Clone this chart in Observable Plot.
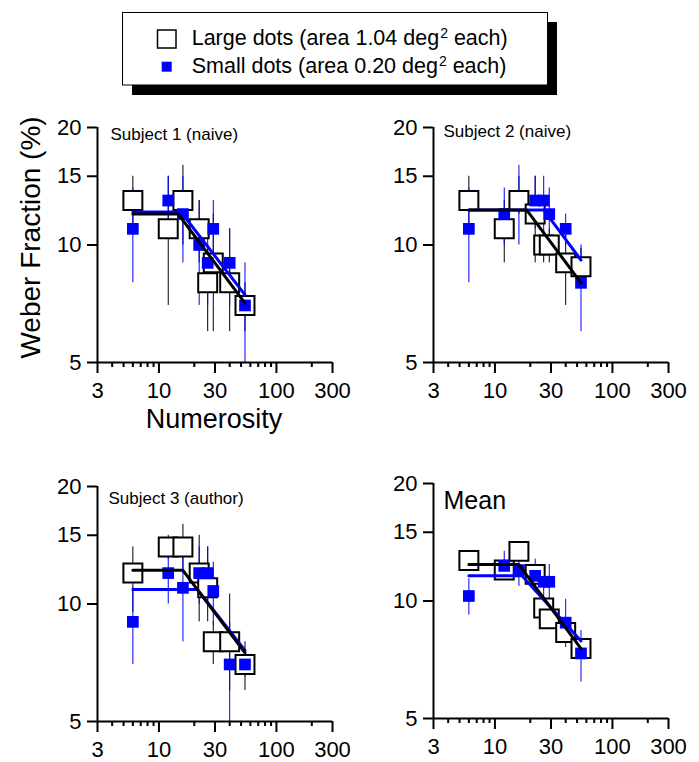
<!DOCTYPE html>
<html><head><meta charset="utf-8">
<script src="https://cdn.jsdelivr.net/npm/d3@7"></script>
<script src="https://cdn.jsdelivr.net/npm/@observablehq/plot@0.6"></script>
<style>
html,body{margin:0;padding:0;background:#fff;}
#page{position:relative;width:699px;height:762px;overflow:hidden;font-family:'Liberation Sans',Arial,sans-serif;}
.pane{position:absolute;}
#overlay{position:absolute;left:0;top:0;pointer-events:none;}
</style></head><body>
<div id="page">
  <div class="pane" id="p1" style="left:0px;top:110px"></div>
  <div class="pane" id="p2" style="left:350px;top:110px"></div>
  <div class="pane" id="p3" style="left:0px;top:468px"></div>
  <div class="pane" id="p4" style="left:350px;top:465px"></div>
  <svg id="overlay" width="699" height="762" font-family="'Liberation Sans', Arial, sans-serif"></svg>
</div>
<script>
// ---- data ----
const numerosity = [6, 12, 16, 22, 26, 29, 40, 54];
const xMajorTicks = [3, 10, 30, 100, 300];
const xMinorTicks = [4, 5, 6, 7, 8, 9, 20, 40, 50, 60, 70, 80, 90, 200];
const yTicks = [5, 10, 15, 20];
const panelTitles = ["Subject 1 (naive)", "Subject 2 (naive)", "Subject 3 (author)", "Mean"];
const legendLarge = ["Large dots (area 1.04 deg", "2", " each)"];
const legendSmall = ["Small dots (area 0.20 deg", "2", " each)"];
const yTitle = "Weber Fraction (%)";
const xTitle = "Numerosity";

// Subject 1
const s1Large   = [13, 11, 13, 11, 8, 9, 8, 7];
const s1LargeLo = [11, 7, 10, 9, 6, 6, 6, 6];
const s1LargeHi = [15, 15, 16, 13, 10, 12, 11, 8];
const s1Small   = [11, 13, 12, 10, 9, 11, 9, 7];
const s1SmallLo = [8, 11, 9, 7, 7, 9, 7, 5];
const s1SmallHi = [14, 15, 15, 13, 11, 13, 11, 9];
const s1FitLargeX = [6, 14.6, 54], s1FitLargeY = [12, 12, 7.1];
const s1FitSmallX = [6, 15.4, 54], s1FitSmallY = [12.15, 12.15, 7.45];

// Subject 2
const s2Large   = [13, 11, 13, 12, 10, 10, 9, 8.8];
const s2LargeLo = [11, 9, 12, 9, 9, 9, 7, 7.8];
const s2LargeHi = [15, 13, 15, 15, 11, 11, 11, 9.8];
const s2Small   = [11, 12, null, 13, 13, 12, 11, 8];
const s2SmallLo = [8, 10, 10, 11, 11, 10, 10, 6];
const s2SmallHi = [14, 14, 16, 15, 15, 14, 12, 10];
const s2FitLargeX = [6, 18.6, 54], s2FitLargeY = [12.3, 12.3, 8.0];
const s2FitSmallX = [6, 26, 54], s2FitSmallY = [12.3, 12.3, 9.15];

// Subject 3
const s3Large   = [12, 14, 14, 12, 11, 8, 8, 7];
const s3LargeLo = [9.5, 13, 12, 9, 9, 7, 6, 6];
const s3LargeHi = [14, 15, 16, 15, 14, 9, 10.6, 8];
const s3Small   = [9, 12, 11, 12, 12, 10.8, 7, 7];
const s3SmallLo = [7, 10, 8, 10, 10, 8.8, 5, 6.5];
const s3SmallHi = [11, 14, 14, 14, 14, 12.8, 9, 7.5];
const s3FitLargeX = [6, 16, 54], s3FitLargeY = [12.2, 12.2, 7.5];
const s3FitSmallX = [6, 21.2, 54], s3FitSmallY = [10.9, 10.9, 7.6];

// Mean
const s4Large   = [12.7, 12, 13.4, 11.7, 9.6, 9, 8.3, 7.56];
const s4LargeLo = [12.2, 11.4, 12.7, 11.1, 9.1, 8.5, 7.9, 7.2];
const s4LargeHi = [13.2, 12.6, 14.1, 12.3, 10.1, 9.5, 8.7, 7.9];
const s4Small   = [10.3, 12.3, 12, 11.6, 11.2, 11.2, 8.8, 7.34];
const s4SmallLo = [9.2, 11.3, 10.9, 10.5, 10.1, 10.1, 7.6, 6.2];
const s4SmallHi = [11.4, 13.4, 13.1, 12.8, 12.4, 12.4, 10.1, 8.4];
const s4FitLargeX = [6, 16, 54], s4FitLargeY = [12.4, 12.4, 7.55];
const s4FitSmallX = [6, 17, 54], s4FitSmallY = [11.6, 11.6, 7.9];

// ---- drawing ----
const FONT = "'Liberation Sans', Arial, sans-serif";
const BLUE = "#0000ff";
function rowsOf(n, v, lo, hi) { return n.map((x, i) => ({x, y: v[i], lo: lo[i], hi: hi[i]})); }
function fitOf(xs, ys) { return xs.map((x, i) => ({x, y: ys[i]})); }

function makePanel(c) {
  const L = rowsOf(numerosity, c.large, c.largeLo, c.largeHi);
  const S = rowsOf(numerosity, c.small, c.smallLo, c.smallHi);
  const FL = fitOf(c.fitLX, c.fitLY);
  const FS = fitOf(c.fitSX, c.fitSY);
  return Plot.plot({
    width: c.width, height: c.height,
    marginTop: c.mt, marginRight: c.mr, marginBottom: c.mb, marginLeft: c.ml,
    x: {type: "log", domain: [3, 300], axis: null},
    y: {type: "log", domain: [5, 20], axis: null},
    style: {fontFamily: FONT, fontSize: "22px", background: "transparent", overflow: "visible", color: "#000"},
    marks: [
      Plot.ruleX(L, {x: "x", y1: "lo", y2: "hi", stroke: "#000", strokeWidth: 1}),
      Plot.ruleX(S, {x: "x", y1: "lo", y2: "hi", stroke: BLUE, strokeWidth: 1}),
      Plot.dot(L, {x: "x", y: "y", symbol: "square", r: 10.7, fill: "#fff", stroke: "#000", strokeWidth: 2}),
      Plot.dot(S.filter(d => d.y != null), {x: "x", y: "y", symbol: "square", r: 6.6, fill: BLUE, stroke: "none"}),
      Plot.line(FS, {x: "x", y: "y", stroke: BLUE, strokeWidth: 3}),
      Plot.line(FL, {x: "x", y: "y", stroke: "#000", strokeWidth: 3}),
      Plot.ruleY([5], {stroke: "#000", strokeWidth: 2}),
      Plot.ruleX([3], {stroke: "#000", strokeWidth: 2}),
      Plot.axisX(xMinorTicks, {tickSize: 5, tickFormat: () => "", strokeWidth: 2, stroke: "#000", label: null}),
      Plot.axisX(xMajorTicks, {tickSize: 11, tickFormat: () => "", strokeWidth: 2, stroke: "#000", label: null}),
      Plot.text(xMajorTicks, {x: d => d, frameAnchor: "bottom", dy: 20, lineAnchor: "top", textAnchor: "middle", text: d => String(d), fontSize: 22, fill: "#000"}),
      Plot.axisY(yTicks, {tickSize: 10, tickPadding: 6, tickFormat: d => String(d), strokeWidth: 2, stroke: "#000", fill: "#000", fontSize: 22, label: null}),
      Plot.text([c.title], {frameAnchor: "top-left", text: d => d, dx: c.tdx, dy: c.tdy, lineAnchor: "bottom", textAnchor: "start", fontSize: c.tsize, fill: "#000"})
    ]
  });
}

const panels = [
  {id: "p1", large: s1Large, largeLo: s1LargeLo, largeHi: s1LargeHi, small: s1Small, smallLo: s1SmallLo, smallHi: s1SmallHi,
   fitLX: s1FitLargeX, fitLY: s1FitLargeY, fitSX: s1FitSmallX, fitSY: s1FitSmallY, title: panelTitles[0],
   width: 352, height: 297, mt: 17, mr: 20, mb: 45, ml: 97, tdx: 13, tdy: 12, tsize: 17},
  {id: "p2", large: s2Large, largeLo: s2LargeLo, largeHi: s2LargeHi, small: s2Small, smallLo: s2SmallLo, smallHi: s2SmallHi,
   fitLX: s2FitLargeX, fitLY: s2FitLargeY, fitSX: s2FitSmallX, fitSY: s2FitSmallY, title: panelTitles[1],
   width: 349, height: 297, mt: 17, mr: 31, mb: 45, ml: 83, tdx: 10, tdy: 9, tsize: 17},
  {id: "p3", large: s3Large, largeLo: s3LargeLo, largeHi: s3LargeHi, small: s3Small, smallLo: s3SmallLo, smallHi: s3SmallHi,
   fitLX: s3FitLargeX, fitLY: s3FitLargeY, fitSX: s3FitSmallX, fitSY: s3FitSmallY, title: panelTitles[2],
   width: 352, height: 294, mt: 18, mr: 20, mb: 41, ml: 97, tdx: 11, tdy: 17, tsize: 17},
  {id: "p4", large: s4Large, largeLo: s4LargeLo, largeHi: s4LargeHi, small: s4Small, smallLo: s4SmallLo, smallHi: s4SmallHi,
   fitLX: s4FitLargeX, fitLY: s4FitLargeY, fitSX: s4FitSmallX, fitSY: s4FitSmallY, title: panelTitles[3],
   width: 349, height: 297, mt: 18, mr: 31, mb: 44, ml: 83, tdx: 10, tdy: 25, tsize: 25}
];
for (const c of panels) document.getElementById(c.id).appendChild(makePanel(c));

// ---- overlay: legend and axis titles ----
const ov = d3.select("#overlay");
ov.append("rect").attr("x", 132).attr("y", 22).attr("width", 425).attr("height", 73).attr("fill", "#000");
ov.append("rect").attr("x", 122.5).attr("y", 12.5).attr("width", 425).attr("height", 72.5).attr("fill", "#fff").attr("stroke", "#000").attr("stroke-width", 1);
ov.append("rect").attr("x", 157.5).attr("y", 30).attr("width", 18.5).attr("height", 18).attr("fill", "#fff").attr("stroke", "#000").attr("stroke-width", 1.5);
ov.append("rect").attr("x", 161.7).attr("y", 61.7).attr("width", 10).attr("height", 10).attr("fill", BLUE);
function legendText(parts, y) {
  const t = ov.append("text").attr("x", 191.7).attr("y", y).attr("font-size", 21.5).attr("fill", "#000");
  t.append("tspan").text(parts[0]);
  t.append("tspan").attr("font-size", 14).attr("dx", 1).attr("dy", -7).text(parts[1]);
  t.append("tspan").attr("dy", 7).text(parts[2]);
}
legendText(legendLarge, 45);
legendText(legendSmall, 73.3);
ov.append("text").attr("transform", "translate(40,237.5) rotate(-90)").attr("text-anchor", "middle").attr("font-size", 28).attr("fill", "#000").text(yTitle);
ov.append("text").attr("x", 214).attr("y", 427.7).attr("text-anchor", "middle").attr("font-size", 27).attr("fill", "#000").text(xTitle);
</script>
</body></html>
